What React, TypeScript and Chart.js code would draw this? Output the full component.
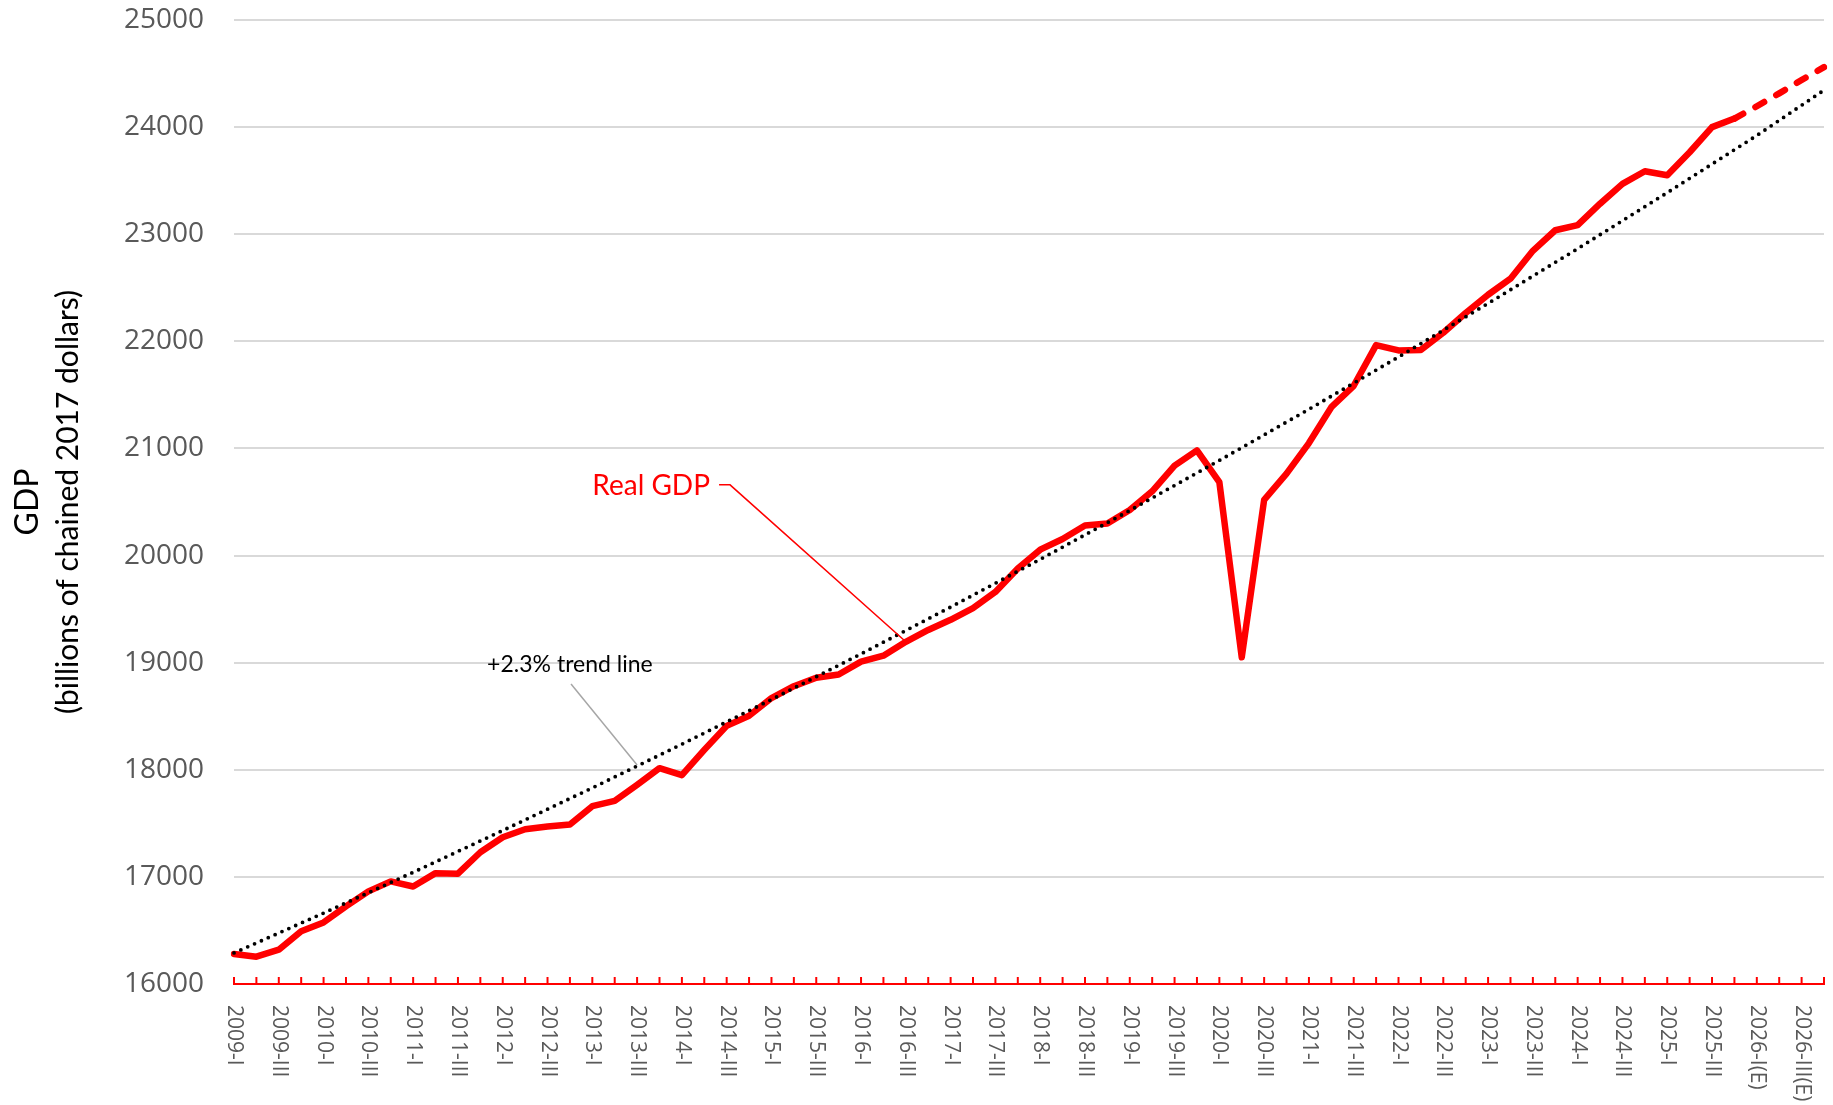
import React, { useEffect, useRef } from 'react';
import { Chart, registerables } from 'chart.js';

Chart.register(...registerables);

// ---- Data ----
const YEARS = [2009, 2010, 2011, 2012, 2013, 2014, 2015, 2016, 2017, 2018, 2019, 2020, 2021, 2022, 2023, 2024, 2025, 2026];
const QUARTERS = ['I', 'II', 'III', 'IV'];
const ESTIMATE_YEAR = 2026;
const CATEGORIES: string[] = YEARS.flatMap((y) =>
  QUARTERS.map((q) => `${y}-${q}${y === ESTIMATE_YEAR ? '(E)' : ''}`)
);

// Real GDP, billions of chained 2017 dollars, 2009-I .. 2026-IV(E)
const REAL_GDP = [
  16280, 16255, 16320, 16492,
  16575, 16725, 16865, 16958,
  16910, 17035, 17030, 17230,
  17370, 17445, 17470, 17490,
  17660, 17710, 17860, 18015,
  17950, 18185, 18410, 18505,
  18670, 18780, 18860, 18890,
  19010, 19065, 19195, 19305,
  19400, 19510, 19660, 19880,
  20055, 20155, 20280, 20300,
  20425, 20600, 20840, 20982,
  20685, 19050, 20520, 20765,
  21050, 21385, 21585, 21965,
  21915, 21920, 22080, 22265,
  22435, 22585, 22845, 23037,
  23085, 23285, 23470, 23588,
  23550, 23765, 24000, 24080,
  24195, 24315, 24440, 24560,
];
const FIRST_ESTIMATE_SEGMENT = 67; // dashed from 2025-IV onward

// +2.3% trend line, read at each year's first quarter and at the last quarter
const TREND_INDEX = [0, 4, 8, 12, 16, 20, 24, 28, 32, 36, 40, 44, 48, 52, 56, 60, 64, 68, 71];
const TREND_VALUES = [
  16290, 16662, 17043, 17433, 17831, 18239, 18656, 19082, 19519, 19965,
  20421, 20888, 21366, 21854, 22354, 22865, 23388, 23922, 24345,
];

const Y_MIN = 16000;
const Y_MAX = 25000;
const Y_STEP = 1000;

// Annotations placed in data space (category index, value)
const GDP_LABEL = { text: 'Real GDP', index: 16.0, value: 20650 };
const GDP_LEADER = { startIndex: 21.66, elbowIndex: 22.15, value: 20660, targetIndex: 30 };
const TREND_LABEL = { text: '+2.3% trend line', index: 15.0, value: 18985 };
const TREND_LEADER = { startIndex: 15.05, startValue: 18800, endIndex: 18, endValue: 18045 };

const RED = '#ff0000';
const GRAY_TEXT = '#595959';

const decorPlugin = {
  id: 'decor',
  afterDraw(chart: any) {
    const { ctx, chartArea, scales } = chart;
    const x = scales.x;
    const y = scales.y;
    const base = y.getPixelForValue(Y_MIN);
    ctx.save();

    // tick marks (pointing up) at every quarter
    ctx.strokeStyle = RED;
    ctx.lineWidth = 2;
    for (let i = 0; i < CATEGORIES.length; i++) {
      const px = x.getPixelForValue(i);
      ctx.beginPath();
      ctx.moveTo(px, base);
      ctx.lineTo(px, base - 7);
      ctx.stroke();
    }

    // rotated category labels, every other quarter
    ctx.fillStyle = GRAY_TEXT;
    ctx.font = '21px "Open Sans"';
    ctx.textAlign = 'left';
    ctx.textBaseline = 'middle';
    for (let i = 0; i < CATEGORIES.length; i += 2) {
      const px = x.getPixelForValue(i);
      ctx.save();
      ctx.translate(px, base + 21);
      ctx.rotate(Math.PI / 2);
      ctx.fillText(CATEGORIES[i], 0, 0);
      ctx.restore();
    }

    // y-axis title
    const midY = (chartArea.top + chartArea.bottom) / 2;
    ctx.fillStyle = '#000000';
    ctx.textAlign = 'center';
    ctx.textBaseline = 'middle';
    ctx.save();
    ctx.translate(28, midY);
    ctx.rotate(-Math.PI / 2);
    ctx.font = '32px Lato';
    ctx.fillText('GDP', 0, 0);
    ctx.restore();
    ctx.save();
    ctx.translate(68, midY);
    ctx.rotate(-Math.PI / 2);
    ctx.font = '30px Lato';
    ctx.fillText('(billions of chained 2017 dollars)', 0, 0);
    ctx.restore();

    // Real GDP annotation
    ctx.fillStyle = RED;
    ctx.font = '28px Lato';
    ctx.textAlign = 'left';
    ctx.fillText(GDP_LABEL.text, x.getPixelForValue(GDP_LABEL.index), y.getPixelForValue(GDP_LABEL.value));
    ctx.strokeStyle = RED;
    ctx.lineWidth = 1.5;
    ctx.beginPath();
    ctx.moveTo(x.getPixelForValue(GDP_LEADER.startIndex), y.getPixelForValue(GDP_LEADER.value));
    ctx.lineTo(x.getPixelForValue(GDP_LEADER.elbowIndex), y.getPixelForValue(GDP_LEADER.value));
    ctx.lineTo(x.getPixelForValue(GDP_LEADER.targetIndex), y.getPixelForValue(REAL_GDP[GDP_LEADER.targetIndex]));
    ctx.stroke();

    // trend annotation
    ctx.fillStyle = '#000000';
    ctx.font = '23px Lato';
    ctx.textAlign = 'center';
    ctx.fillText(TREND_LABEL.text, x.getPixelForValue(TREND_LABEL.index), y.getPixelForValue(TREND_LABEL.value));
    ctx.strokeStyle = '#a6a6a6';
    ctx.lineWidth = 1.5;
    ctx.beginPath();
    ctx.moveTo(x.getPixelForValue(TREND_LEADER.startIndex), y.getPixelForValue(TREND_LEADER.startValue));
    ctx.lineTo(x.getPixelForValue(TREND_LEADER.endIndex), y.getPixelForValue(TREND_LEADER.endValue));
    ctx.stroke();

    ctx.restore();
  },
};

export default function App() {
  const canvasRef = useRef<HTMLCanvasElement | null>(null);

  useEffect(() => {
    if (!canvasRef.current) return;
    const trendData: (number | null)[] = CATEGORIES.map(() => null);
    TREND_INDEX.forEach((idx, k) => {
      trendData[idx] = TREND_VALUES[k];
    });

    const chart = new Chart(canvasRef.current, {
      type: 'line',
      data: {
        labels: CATEGORIES,
        datasets: [
          {
            label: '+2.3% trend line',
            data: trendData,
            borderColor: '#000000',
            borderWidth: 3.8,
            borderDash: [0, 7.5],
            borderCapStyle: 'round',
            pointRadius: 0,
            spanGaps: true,
            tension: 0,
            order: 0,
          },
          {
            label: 'Real GDP',
            data: REAL_GDP,
            borderColor: RED,
            borderWidth: 6.5,
            borderCapStyle: 'round',
            borderJoinStyle: 'round',
            pointRadius: 0,
            tension: 0,
            order: 1,
            segment: {
              borderDash: (c: any) => (c.p0DataIndex >= FIRST_ESTIMATE_SEGMENT ? [10, 14] : undefined),
            },
          },
        ],
      },
      options: {
        responsive: false,
        animation: false,
        events: [],
        layout: { padding: { top: 20, right: 9, left: 0, bottom: 0 } },
        plugins: {
          legend: { display: false },
          tooltip: { enabled: false },
        },
        scales: {
          x: {
            type: 'category',
            offset: false,
            grid: { display: false },
            border: { display: true, color: RED, width: 2 },
            ticks: { display: false, autoSkip: false },
            afterFit: (s: any) => {
              s.height = 121;
              s.paddingLeft = 0;
              s.paddingRight = 0;
            },
          },
          y: {
            min: Y_MIN,
            max: Y_MAX,
            ticks: {
              stepSize: Y_STEP,
              color: GRAY_TEXT,
              font: { family: '"Open Sans"', size: 28 },
              padding: 30,
              callback: (v: any) => String(v),
            },
            grid: { color: '#d9d9d9', lineWidth: 2, drawTicks: false },
            border: { display: false },
            afterFit: (s: any) => {
              s.width = 234;
              s.paddingTop = 0;
              s.paddingBottom = 0;
            },
          },
        },
      },
      plugins: [decorPlugin],
    } as any);

    return () => chart.destroy();
  }, []);

  return (
    <div style={{ position: 'absolute', left: 0, top: 0, width: 1833, height: 1105, background: '#ffffff' }}>
      <canvas ref={canvasRef} width={1833} height={1105} />
    </div>
  );
}
